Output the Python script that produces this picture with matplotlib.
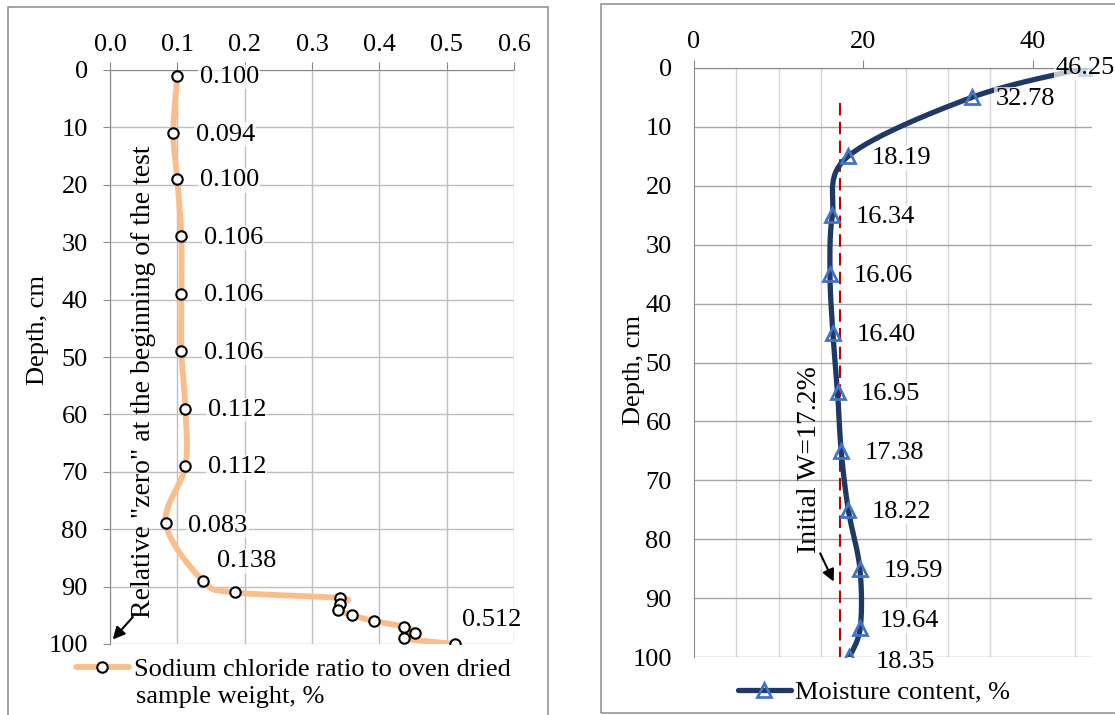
import numpy as np
import matplotlib
matplotlib.use('Agg')
import matplotlib.pyplot as plt
from matplotlib.patches import Rectangle
from matplotlib.ticker import MultipleLocator, FormatStrFormatter

# Data
salt_depth = [1, 11, 19, 29, 39, 49, 59, 69, 79, 89, 91, 92, 93, 94, 95, 96, 97, 98, 99, 100]
salt_ratio = [0.100, 0.094, 0.100, 0.106, 0.106, 0.106, 0.112, 0.112, 0.083, 0.138,
              0.185, 0.342, 0.342, 0.339, 0.360, 0.392, 0.437, 0.453, 0.437, 0.512]
salt_labelled = [0, 1, 2, 3, 4, 5, 6, 7, 8, 9, 19]

moist_depth = [0, 5, 15, 25, 35, 45, 55, 65, 75, 85, 95, 100]
moist_value = [46.25, 32.78, 18.19, 16.34, 16.06, 16.40, 16.95, 17.38, 18.22, 19.59, 19.64, 18.35]

initial_w = 17.2
initial_w_top = 6

plt.rcParams['font.family'] = ['Liberation Serif', 'DejaVu Serif']
plt.rcParams['font.size'] = 19

ORANGE = '#F9BE8C'
NAVY = '#1F3864'
BLUE = '#4472C4'


def smooth(ax, xs, ys, n=30):
    # Excel-like smoothed line, computed in screen space
    P = ax.transData.transform(np.column_stack([xs, ys]))
    Pe = np.vstack([P[0], P, P[-1]])
    t = np.linspace(0, 1, n)[:, None]
    out = []
    for i in range(len(P) - 1):
        p0, p1 = P[i], P[i + 1]
        c1 = p0 + (Pe[i + 2] - Pe[i]) / 6
        c2 = p1 - (Pe[i + 3] - Pe[i + 1]) / 6
        out.append((1 - t)**3 * p0 + 3 * (1 - t)**2 * t * c1 + 3 * (1 - t) * t**2 * c2 + t**3 * p1)
    return ax.transData.inverted().transform(np.vstack(out)).T


fig = plt.figure(figsize=(11.15, 7.15), dpi=100)

# panel frames
fig.patches.append(Rectangle((8 / 1115, -0.02), 540 / 1115, 1.02 - 7 / 715, transform=fig.transFigure,
                             fill=False, ec='#8C8C8C', lw=1.1))
fig.patches.append(Rectangle((601 / 1115, 1 - 713 / 715), 0.5, 709 / 715, transform=fig.transFigure,
                             fill=False, ec='#8C8C8C', lw=1.1))

arrow_kw = dict(arrowstyle='-|>', color='black', lw=1.5, mutation_scale=18, shrinkA=0, shrinkB=0)

# ---------------- left panel ----------------
ax1 = fig.add_axes([110 / 1115, 1 - 644 / 715, 404 / 1115, 574 / 715])
ax1.set_xlim(0, 0.6)
ax1.set_ylim(100, 0)
ax1.xaxis.set_major_locator(MultipleLocator(0.1))
ax1.xaxis.set_major_formatter(FormatStrFormatter('%.1f'))
ax1.yaxis.set_major_locator(MultipleLocator(10))
ax1.xaxis.tick_top()
ax1.tick_params(axis='x', direction='out', length=6, color='#898989', pad=4)
ax1.tick_params(axis='y', direction='out', length=5, color='#898989', pad=11)
ax1.grid(True, color='#BFBFBF', lw=1.0)
for s in ['bottom', 'right']:
    ax1.spines[s].set_visible(False)
for s in ['top', 'left']:
    ax1.spines[s].set_color('#898989')
ax1.set_axisbelow(True)

sx, sy = smooth(ax1, salt_ratio, salt_depth)
l1, = ax1.plot(sx, sy, color=ORANGE, lw=4.2, solid_capstyle='round', zorder=3)
m1, = ax1.plot(salt_ratio, salt_depth, ls='none', marker='o', ms=7.5, mfc='white', mec='black',
               mew=1.5, zorder=4)

salt_offsets = {8: (16, -1.5), 9: (10, 14), 19: (5, 17)}
for i in salt_labelled:
    dx, dy = salt_offsets.get(i, (16, -1))
    ax1.annotate(f'{salt_ratio[i]:.3f}', (salt_ratio[i], salt_depth[i]), xytext=(dx, dy),
                 textcoords='offset points', ha='left', va='center', zorder=5,
                 bbox=dict(fc='white', ec='none', alpha=0.75, pad=1))

ax1.set_ylabel('Depth, cm')
ax1.yaxis.set_label_coords(-0.15, 0.547)

ax1.text(0.050, 95.5, 'Relative "zero" at the beginning of the test', rotation=90,
         ha='center', va='bottom', fontsize=20, zorder=6)
ax1.annotate('', xy=(0.004, 99.2), xytext=(0.034, 95.3), arrowprops=arrow_kw, zorder=6)

ax1.legend([(l1, m1)], ['Sodium chloride ratio to oven dried'],
           loc='center left', bbox_to_anchor=(76 / 1115, 1 - 669 / 715), bbox_transform=fig.transFigure,
           frameon=False, handlelength=2.0, handletextpad=0.2, borderpad=0, borderaxespad=0)
fig.text(136 / 1115, 1 - 697 / 715, 'sample weight, %', ha='left', va='center')

# ---------------- right panel ----------------
ax2 = fig.add_axes([694 / 1115, 1 - 657 / 715, 398 / 1115, 589 / 715])
ax2.set_xlim(0, 47)
ax2.set_ylim(100, 0)
ax2.xaxis.set_major_locator(MultipleLocator(20))
ax2.xaxis.set_minor_locator(MultipleLocator(5))
ax2.yaxis.set_major_locator(MultipleLocator(10))
ax2.xaxis.tick_top()
ax2.tick_params(axis='x', which='major', direction='out', length=6, color='#898989', pad=5)
ax2.tick_params(axis='x', which='minor', length=0)
ax2.tick_params(axis='y', length=0, pad=16)
ax2.grid(True, axis='y', color='#A6A6A6', lw=1.0)
ax2.grid(True, axis='x', which='minor', color='#D4D4D4', lw=1.0)
for s in ['bottom', 'right']:
    ax2.spines[s].set_visible(False)
for s in ['top', 'left']:
    ax2.spines[s].set_color('#898989')
ax2.set_axisbelow(True)

ax2.vlines(initial_w, initial_w_top, 100, colors='#C00000', lw=1.5, linestyles=(0, (6, 3)), zorder=2)

mx, my = smooth(ax2, moist_value, moist_depth)
l2, = ax2.plot(mx, my, color=NAVY, lw=3.8, solid_capstyle='round', zorder=3)
m2, = ax2.plot(moist_value, moist_depth, ls='none', marker='^', ms=10, mfc='none', mec=BLUE,
               mew=2, zorder=4)

moist_offsets = {0: (-22, 0), 1: (17, -1), 10: (14, 5), 11: (19, -3.6)}
for i in range(len(moist_value)):
    dx, dy = moist_offsets.get(i, (17, -1.5))
    ax2.annotate(f'{moist_value[i]:.2f}', (moist_value[i], moist_depth[i]), xytext=(dx, dy),
                 textcoords='offset points', ha='left', va='center', zorder=5,
                 bbox=dict(fc='white', ec='none', alpha=0.7, pad=1))

ax2.set_ylabel('Depth, cm')
ax2.yaxis.set_label_coords(-0.123, 0.487)

ax2.text(13.6, 82.4, 'Initial W=17.2%', rotation=90, ha='center', va='bottom', fontsize=20, zorder=6)
ax2.annotate('', xy=(16.5, 87.2), xytext=(14.9, 82.4), arrowprops=arrow_kw, zorder=6)

ax2.legend([(l2, m2)], ['Moisture content, %'],
           loc='center left', bbox_to_anchor=(738 / 1115, 1 - 692 / 715), bbox_transform=fig.transFigure,
           frameon=False, handlelength=2.0, handletextpad=0.15, borderpad=0, borderaxespad=0)

fig.savefig('out.png', dpi=100)
